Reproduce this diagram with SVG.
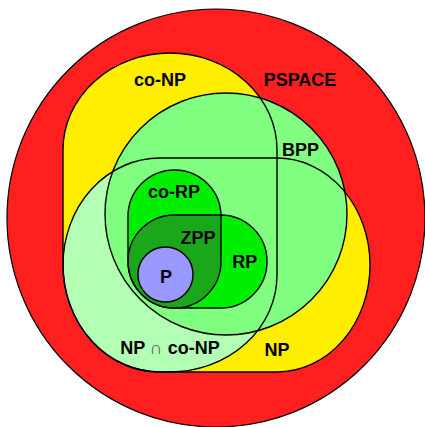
<svg xmlns="http://www.w3.org/2000/svg" xmlns:xlink="http://www.w3.org/1999/xlink" width="425" height="427" viewBox="0 0 425 427">
  <style>
    .ln { fill: none; stroke: #000; stroke-width: 1.4; }
    .lbl { font-family: "Liberation Sans", Arial, sans-serif; font-weight: bold; font-size: 18px; fill: #000; text-anchor: middle; }
    .cap { font-weight: normal; fill: #555; }
  </style>
  <defs>
    <path id="conp-shape" d="M63,150 A107,97 0 0 1 277,150 V275 A107,97 0 0 1 170,372 H160 A97,107 0 0 1 63,265 Z"/>
    <path id="np-shape" d="M160,158 H277 A93,107 0 0 1 277,372 H160 A97,107 0 0 1 160,158 Z"/>
    <rect id="corp-shape" x="128" y="170" width="93" height="138" rx="46.5" ry="46.5"/>
    <rect id="rp-shape" x="128" y="215" width="139" height="93" rx="46.5" ry="46.5"/>
    <clipPath id="np-clip"><use xlink:href="#np-shape"/></clipPath>
    <clipPath id="rp-clip"><use xlink:href="#rp-shape"/></clipPath>
  </defs>

  <g id="pspace">
    <circle cx="216" cy="218" r="209" fill="#ff1f1f" stroke="#000" stroke-width="1.2"/>
  </g>

  <g id="conp">
    <use xlink:href="#conp-shape" fill="#ffee00"/>
  </g>
  <g id="np">
    <use xlink:href="#np-shape" fill="#ffee00"/>
  </g>
  <g id="np-conp">
    <use xlink:href="#conp-shape" fill="#b3ffb3" clip-path="url(#np-clip)"/>
  </g>

  <g id="bpp">
    <circle cx="226" cy="214" r="121" fill="#80ff80" stroke="#000" stroke-width="1.4"/>
  </g>

  <g id="np-conp-outlines">
    <use xlink:href="#conp-shape" class="ln"/>
    <use xlink:href="#np-shape" class="ln"/>
  </g>

  <g id="corp">
    <use xlink:href="#corp-shape" fill="#00ee00"/>
  </g>
  <g id="rp">
    <use xlink:href="#rp-shape" fill="#00ee00"/>
  </g>
  <g id="zpp">
    <use xlink:href="#corp-shape" fill="#1aa81a" clip-path="url(#rp-clip)"/>
  </g>
  <g id="rp-outlines">
    <use xlink:href="#corp-shape" class="ln"/>
    <use xlink:href="#rp-shape" class="ln"/>
  </g>

  <g id="p">
    <circle cx="165.5" cy="274.5" r="27.5" fill="#9999ff" stroke="#000" stroke-width="1.4"/>
  </g>

  <g id="labels">
    <text class="lbl" x="160" y="86">co-NP</text>
    <text class="lbl" x="300" y="86">PSPACE</text>
    <text class="lbl" x="300.5" y="156">BPP</text>
    <text class="lbl" x="174" y="198">co-RP</text>
    <text class="lbl" x="198" y="243.5">ZPP</text>
    <text class="lbl" x="244.7" y="268">RP</text>
    <text class="lbl" x="166" y="282.5">P</text>
    <text class="lbl" x="170" y="353.5">NP <tspan class="cap">∩</tspan> co-NP</text>
    <text class="lbl" x="277" y="356">NP</text>
  </g>
</svg>
